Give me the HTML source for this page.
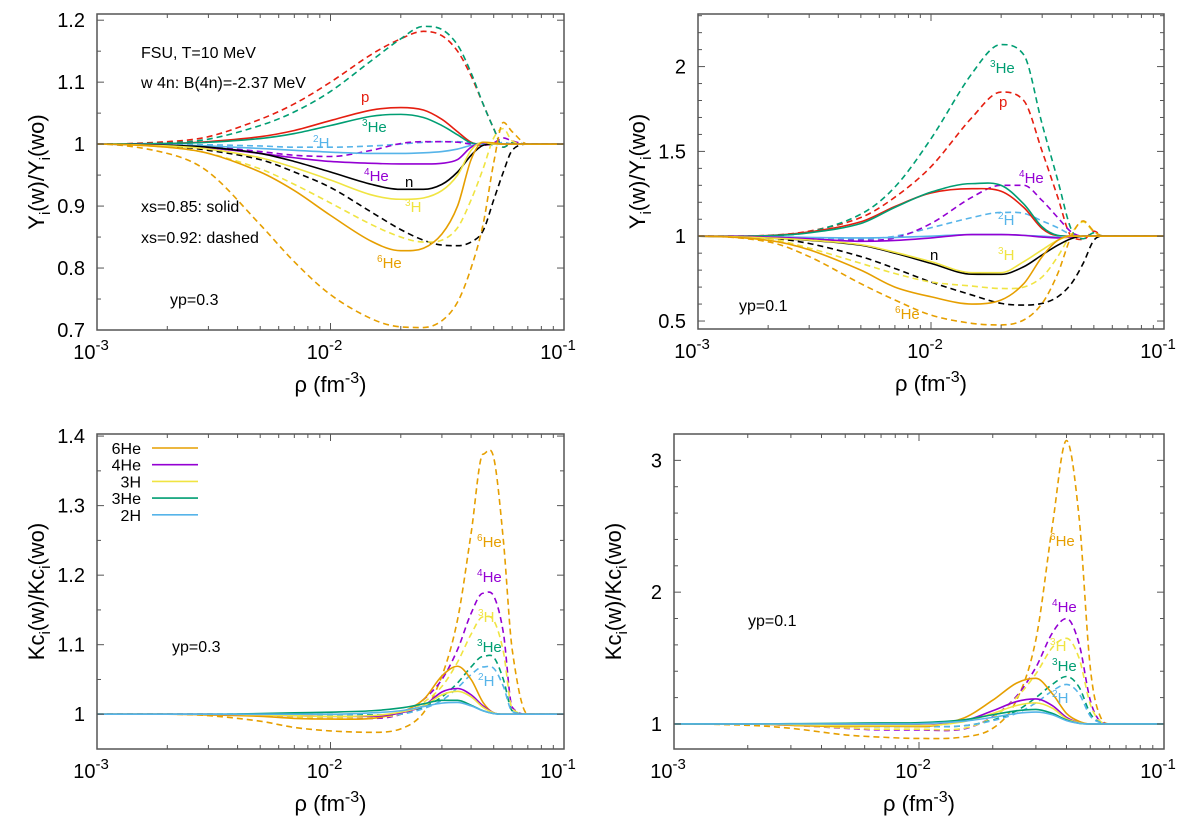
<!DOCTYPE html>
<html><head><meta charset="utf-8"><style>
html,body{margin:0;padding:0;background:#fff;}
svg{display:block;font-family:"Liberation Sans",Arial,sans-serif;}
</style></head><body>
<svg id="fig" width="1200" height="827" viewBox="0 0 1200 827" xmlns="http://www.w3.org/2000/svg"></svg>
<script>
// shared density grid (fm^-3)
const rho = [0.001,0.002,0.003,0.005,0.007,0.01,0.015,0.02,0.025,0.03,0.035,0.04,0.045,0.05,0.055,0.06,0.07,0.1];

// Top-left: Yi(w)/Yi(wo), yp=0.3
const tlSolidP   = [1,1.001,1.004,1.012,1.022,1.038,1.055,1.059,1.055,1.04,1.02,1.003,0.999,1,1,1,1,1];
const tlSolid3He = [1,1.001,1.003,1.009,1.017,1.03,1.045,1.048,1.043,1.03,1.015,1.002,1,1,1,1,1,1];
const tlSolid2H  = [1,0.999,0.997,0.993,0.99,0.987,0.985,0.985,0.986,0.988,0.992,0.998,1,1,1,1,1,1];
const tlSolid4He = [1,0.998,0.994,0.985,0.978,0.972,0.969,0.968,0.968,0.969,0.975,0.995,1.002,1,1,1,1,1];
const tlSolidN   = [1,0.998,0.995,0.985,0.972,0.955,0.935,0.927,0.927,0.935,0.955,0.982,0.998,1,1,1,1,1];
const tlSolid3H  = [1,0.997,0.992,0.978,0.962,0.942,0.918,0.911,0.913,0.925,0.95,0.99,1.003,1,1,1,1,1];
const tlSolid6He = [1,0.995,0.985,0.955,0.925,0.885,0.843,0.828,0.832,0.855,0.9,0.975,1.003,1.002,1,1,1,1];
const tlDashP    = [1,1.004,1.012,1.04,1.065,1.1,1.145,1.17,1.182,1.175,1.15,1.11,1.065,1.025,0.995,1.002,1,1];
const tlDash3He  = [1,1.002,1.008,1.03,1.052,1.085,1.135,1.17,1.19,1.185,1.16,1.115,1.065,1.025,0.995,1.002,1,1];
const tlDash2H   = [1,1,0.999,0.997,0.995,0.995,0.997,1,1.003,1.004,1.004,1.002,1,0.998,1.003,1,1,1];
const tlDash4He  = [1,0.999,0.996,0.988,0.982,0.98,0.99,1.001,1.004,1.004,1.003,1,0.998,1.002,1.01,1.005,1,1];
const tlDashN    = [1,0.997,0.99,0.975,0.955,0.93,0.89,0.862,0.845,0.837,0.836,0.842,0.86,0.91,0.955,0.99,1,1];
const tlDash3H   = [1,0.995,0.985,0.96,0.935,0.905,0.87,0.85,0.842,0.845,0.865,0.91,0.96,1.01,1.025,1.005,1,1];
const tlDash6He  = [1,0.985,0.955,0.87,0.81,0.757,0.718,0.705,0.704,0.715,0.745,0.8,0.87,0.97,1.035,1.02,1,1];

// Top-right: Yi(w)/Yi(wo), yp=0.1
const trSolidP   = [1,1.004,1.025,1.085,1.175,1.255,1.28,1.265,1.17,1.045,1.003,1,1,1,1,1,1,1];
const trSolid3He = [1,1.003,1.02,1.075,1.17,1.26,1.31,1.3,1.19,1.055,1.005,1,1,1,1,1,1,1];
const trSolid2H  = [1,0.997,0.993,0.99,0.993,1,1.01,1.01,1.005,1,0.995,1,1,1,1,1,1,1];
const trSolid4He = [1,0.995,0.985,0.97,0.975,0.99,1.01,1.01,1.005,0.995,0.99,0.995,1,1,1,1,1,1];
const trSolidN   = [1,0.99,0.976,0.947,0.9,0.84,0.776,0.775,0.82,0.89,0.947,0.986,1,1,1,1,1,1];
const trSolid3H  = [1,0.99,0.977,0.95,0.905,0.85,0.785,0.785,0.85,0.92,0.976,1,1,1,1,1,1,1];
const trSolid6He = [1,0.976,0.92,0.8,0.7,0.643,0.6,0.624,0.72,0.88,0.976,1.002,1,1,1,1,1,1];
const trDashP    = [1,1.005,1.03,1.11,1.23,1.41,1.7,1.85,1.8,1.5,1.23,1,0.98,1.03,1,1,1,1];
const trDash3He  = [1,1.003,1.025,1.13,1.29,1.575,1.96,2.13,2.07,1.66,1.33,1.04,0.985,1.02,1,1,1,1];
const trDash2H   = [1,0.998,0.99,0.985,1,1.05,1.11,1.14,1.135,1.09,1.05,1.01,1,1,1,1,1,1];
const trDash4He  = [1,0.995,0.98,0.976,0.99,1.075,1.23,1.3,1.3,1.21,1.11,1.025,1,1,1,1,1,1];
const trDashN    = [1,0.99,0.957,0.88,0.81,0.73,0.653,0.604,0.594,0.604,0.643,0.72,0.84,0.976,1,1,1,1];
const trDash3H   = [1,0.985,0.93,0.84,0.78,0.73,0.706,0.692,0.7,0.76,0.88,1.015,1.085,1.025,1,1,1,1];
const trDash6He  = [1,0.967,0.88,0.72,0.624,0.535,0.486,0.477,0.506,0.604,0.78,1,1.09,1.03,1,1,1,1];

// Bottom-left: Kci(w)/Kci(wo), yp=0.3
const blSolid6He = [1,1,0.999,0.997,0.994,0.993,0.994,1.003,1.021,1.055,1.069,1.05,1.017,1.002,1,1,1,1];
const blSolid4He = [1,1,1,0.999,0.998,0.997,0.997,1.002,1.012,1.032,1.037,1.028,1.012,1.002,1,1,1,1];
const blSolid3H  = [1,1,1,0.999,0.998,0.997,0.998,1.003,1.012,1.028,1.033,1.025,1.01,1.002,1,1,1,1];
const blSolid3He = [1,1,1,1.001,1.002,1.003,1.005,1.009,1.015,1.02,1.02,1.013,1.005,1.001,1,1,1,1];
const blSolid2H  = [1,1,1,1,1,1,1.002,1.005,1.011,1.016,1.017,1.012,1.005,1.001,1,1,1,1];
const blDash6He  = [1,1,0.998,0.99,0.981,0.976,0.974,0.979,1.002,1.055,1.136,1.26,1.374,1.369,1.25,1.093,1,1];
const blDash4He  = [1,1,1,0.998,0.996,0.994,0.994,1,1.021,1.05,1.093,1.145,1.174,1.17,1.117,1.01,1,1];
const blDash3H   = [1,1,1,0.998,0.996,0.995,0.996,1,1.017,1.04,1.075,1.115,1.14,1.135,1.09,1.008,1,1];
const blDash3He  = [1,1,1,1,1,1,0.999,1,1.01,1.025,1.045,1.068,1.083,1.082,1.05,1.005,1,1];
const blDash2H   = [1,1,1,1,1,0.999,0.998,1,1.008,1.02,1.038,1.057,1.068,1.066,1.04,1.004,1,1];

// Bottom-right: Kci(w)/Kci(wo), yp=0.1
const brSolid6He = [1,1,0.99,0.98,0.982,0.98,1.04,1.18,1.31,1.346,1.23,1.08,1.02,1,1,1,1,1];
const brSolid4He = [1,1,0.995,0.99,0.99,0.99,1.02,1.1,1.17,1.19,1.14,1.05,1.01,1,1,1,1,1];
const brSolid3H  = [1,1,0.995,0.988,0.988,0.988,1.015,1.08,1.14,1.16,1.12,1.04,1.01,1,1,1,1,1];
const brSolid3He = [1,1,1.002,1.005,1.008,1.01,1.03,1.07,1.1,1.11,1.08,1.03,1.005,1,1,1,1,1];
const brSolid2H  = [1,1,1,1,1,1.002,1.02,1.05,1.08,1.09,1.07,1.025,1.005,1,1,1,1,1];
const brDash6He  = [1,0.99,0.967,0.917,0.9,0.89,0.9,0.967,1.18,1.64,2.5,3.15,2.57,1.43,1.055,1,1,1];
const brDash4He  = [1,1,0.99,0.967,0.955,0.955,0.96,1.055,1.21,1.43,1.69,1.8,1.61,1.18,1.02,1,1,1];
const brDash3H   = [1,1,0.99,0.97,0.96,0.96,0.965,1.05,1.2,1.38,1.58,1.65,1.5,1.15,1.02,1,1,1];
const brDash3He  = [1,1,0.995,0.985,0.98,0.98,0.985,1.03,1.1,1.2,1.3,1.36,1.28,1.08,1.01,1,1,1];
const brDash2H   = [1,1,0.995,0.985,0.98,0.98,0.985,1.025,1.08,1.16,1.25,1.3,1.23,1.06,1.01,1,1,1];

const C = {p:'#e51e10', he3:'#009e73', h2:'#56b4e9', he4:'#9400d3', n:'#000000', h3:'#f0e442', he6:'#e69f00'};
const NS = 'http://www.w3.org/2000/svg';
const svg = document.getElementById('fig');

function el(tag, attrs, parent){
  const e = document.createElementNS(NS, tag);
  for (const k in attrs) e.setAttribute(k, attrs[k]);
  (parent||svg).appendChild(e);
  return e;
}

// cubic Hermite with centered tangents; flat at extrema; limited near flat ends
function smoothPath(pts){
  const n = pts.length;
  const dx = [], sl = [];
  for (let i=0;i<n-1;i++){ dx[i]=pts[i+1][0]-pts[i][0]; sl[i]=(pts[i+1][1]-pts[i][1])/dx[i]; }
  const m = [];
  m[0] = 0; m[n-1] = 0;
  for (let i=1;i<n-1;i++){
    if (sl[i-1]*sl[i] <= 0) m[i] = 0;
    else m[i] = (pts[i+1][1]-pts[i-1][1])/(pts[i+1][0]-pts[i-1][0]);
  }
  for (let i=0;i<n-1;i++){
    const dy = Math.abs(pts[i+1][1]-pts[i][1]);
    if (m[i+1] === 0 && Math.abs(m[i]) > 3*Math.abs(sl[i])) m[i] = 3*sl[i];
    if (m[i] === 0 && dy > 4 && Math.abs(m[i+1]) > 3*Math.abs(sl[i])) m[i+1] = 3*sl[i];
  }
  let d = 'M'+pts[0][0].toFixed(2)+','+pts[0][1].toFixed(2);
  for (let i=0;i<n-1;i++){
    const h = dx[i]/3;
    d += ' C'+(pts[i][0]+h).toFixed(2)+','+(pts[i][1]+m[i]*h).toFixed(2)+' '+(pts[i+1][0]-h).toFixed(2)+','+(pts[i+1][1]-m[i+1]*h).toFixed(2)+' '+pts[i+1][0].toFixed(2)+','+pts[i+1][1].toFixed(2);
  }
  return d;
}

function drawPanel(cfg){
  const g = el('g', {});
  
  
  const X = v => cfg.x0 + (Math.log10(v)+3)/2*(cfg.x1-cfg.x0);
  const Y = v => cfg.y1 - (v-cfg.ymin)/(cfg.ymax-cfg.ymin)*(cfg.y1-cfg.y0);
  const clipId = 'clip-'+cfg.name;
  const cp = el('clipPath', {id:clipId}, g);
  el('rect', {x:cfg.x0, y:cfg.y0, width:cfg.x1-cfg.x0, height:cfg.y1-cfg.y0}, cp);
  const sg = el('g', {'clip-path':'url(#'+clipId+')'}, g);
  cfg.series.forEach(s => {
    const pts = rho.map((r,i)=>[X(r), Y(s.vals[i])]);
    const path = el('path', {d:smoothPath(pts), fill:'none', stroke:s.color, 'stroke-width':1.6});
    if (s.dash) path.setAttribute('stroke-dasharray','6,4');
    
    
    sg.appendChild(path);
  });
  const fr = el('rect', {x:cfg.x0, y:cfg.y0, width:cfg.x1-cfg.x0, height:cfg.y1-cfg.y0, fill:'none', stroke:'#555', 'stroke-width':1.5}, g);
  
  
  const eps = 1e-9;
  for (let v = cfg.ymin; v <= cfg.ymax+eps; v += cfg.yminor){
    const vv = Math.round(v/cfg.yminor)*cfg.yminor;
    if (vv < cfg.ymin-eps || vv > cfg.ymax+eps) continue;
    const major = Math.abs(vv/cfg.ymajor - Math.round(vv/cfg.ymajor)) < 1e-6;
    const len = major ? 7 : 4;
    const y = Y(vv);
    el('line', {x1:cfg.x0, x2:cfg.x0+len, y1:y, y2:y, stroke:'#555', 'stroke-width':1}, g);
    el('line', {x1:cfg.x1, x2:cfg.x1-len, y1:y, y2:y, stroke:'#555', 'stroke-width':1}, g);
  }
  cfg.ylabels.forEach(v => {
    const t = el('text', {x:cfg.x0-12, y:Y(v)+7, 'font-size':20, 'text-anchor':'end', fill:'#000'}, g);
    t.textContent = String(v);
    
    
  });
  for (let dec=-3; dec<-1+1e-9; dec++){
    for (let m=1;m<=9;m++){
      if (dec===-1 && m>1) break;
      const x = X(m*Math.pow(10,dec));
      const len = m===1?7:4;
      el('line', {x1:x, x2:x, y1:cfg.y1, y2:cfg.y1-len, stroke:'#555', 'stroke-width':1}, g);
      el('line', {x1:x, x2:x, y1:cfg.y0, y2:cfg.y0+len, stroke:'#555', 'stroke-width':1}, g);
    }
  }
  [-3,-2,-1].forEach(e => {
    const t = el('text', {x:X(Math.pow(10,e))-6, y:cfg.y1+29, 'font-size':20, 'text-anchor':'middle', fill:'#000'}, g);
    t.innerHTML = '10<tspan dy="-9" font-size="15">'+e+'</tspan>';
    
    
  });
  const xt = el('text', {x:(cfg.x0+cfg.x1)/2, y:cfg.y1+62, 'font-size':22, 'text-anchor':'middle', fill:'#000'}, g);
  xt.innerHTML = 'ρ (fm<tspan dy="-9" font-size="16">-3</tspan><tspan dy="9">)</tspan>';
  
  
  const yc = (cfg.y0+cfg.y1)/2;
  const yt = el('text', {x:0, y:0, 'font-size':22, 'text-anchor':'middle', fill:'#000', transform:'translate('+(cfg.x0-53)+','+yc+') rotate(-90)'}, g);
  yt.innerHTML = cfg.ytitle;
  
  
  cfg.labels.forEach(l => {
    const t = el('text', {x:l[0], y:l[1], 'font-size':l[4]||15, fill:l[3]}, g);
    t.innerHTML = l[2];
    
    
  });
  return g;
}

const sup = (n,s) => '<tspan dy="-6" font-size="10">'+n+'</tspan><tspan dy="6">'+s+'</tspan>';
const yiTitle = 'Y<tspan dy="6" font-size="15">i</tspan><tspan dy="-6">(w)/Y</tspan><tspan dy="6" font-size="15">i</tspan><tspan dy="-6">(wo)</tspan>';
const kcTitle = 'Kc<tspan dy="6" font-size="15">i</tspan><tspan dy="-6">(w)/Kc</tspan><tspan dy="6" font-size="15">i</tspan><tspan dy="-6">(wo)</tspan>';

drawPanel({name:'panel-top-left', x0:97, x1:564, y0:14, y1:330, ymin:0.7, ymax:1.21, ymajor:0.1, yminor:0.05,
  ylabels:[0.7,0.8,0.9,1,1.1,1.2], ytitle:yiTitle,
  series:[
    {id:'line-p-dashed', vals:tlDashP, color:C.p, dash:true},
    {id:'line-3he-dashed', vals:tlDash3He, color:C.he3, dash:true},
    {id:'line-2h-dashed', vals:tlDash2H, color:C.h2, dash:true},
    {id:'line-4he-dashed', vals:tlDash4He, color:C.he4, dash:true},
    {id:'line-n-dashed', vals:tlDashN, color:C.n, dash:true},
    {id:'line-3h-dashed', vals:tlDash3H, color:C.h3, dash:true},
    {id:'line-6he-dashed', vals:tlDash6He, color:C.he6, dash:true},
    {id:'line-p-solid', vals:tlSolidP, color:C.p},
    {id:'line-3he-solid', vals:tlSolid3He, color:C.he3},
    {id:'line-2h-solid', vals:tlSolid2H, color:C.h2},
    {id:'line-4he-solid', vals:tlSolid4He, color:C.he4},
    {id:'line-n-solid', vals:tlSolidN, color:C.n},
    {id:'line-3h-solid', vals:tlSolid3H, color:C.h3},
    {id:'line-6he-solid', vals:tlSolid6He, color:C.he6}],
  labels:[
    [141,58,'FSU, T=10 MeV','#000',16],[141,88,'w 4n: B(4n)=-2.37 MeV','#000',16],
    [141,212,'xs=0.85: solid','#000',16],[141,243,'xs=0.92: dashed','#000',16],[170,305,'yp=0.3','#000',16],
    [361,102,'p',C.p],[362,132,sup(3,'He'),C.he3],[313,148,sup(2,'H'),C.h2],[364,181,sup(4,'He'),C.he4],
    [405,187,'n',C.n],[405,212,sup(3,'H'),C.h3],[377,268,sup(6,'He'),C.he6]]
});

drawPanel({name:'panel-top-right', x0:698, x1:1164, y0:14, y1:329, ymin:0.453, ymax:2.31, ymajor:0.5, yminor:0.1,
  ylabels:[0.5,1,1.5,2], ytitle:yiTitle,
  series:[
    {id:'line-p-dashed', vals:trDashP, color:C.p, dash:true},
    {id:'line-3he-dashed', vals:trDash3He, color:C.he3, dash:true},
    {id:'line-2h-dashed', vals:trDash2H, color:C.h2, dash:true},
    {id:'line-4he-dashed', vals:trDash4He, color:C.he4, dash:true},
    {id:'line-n-dashed', vals:trDashN, color:C.n, dash:true},
    {id:'line-3h-dashed', vals:trDash3H, color:C.h3, dash:true},
    {id:'line-6he-dashed', vals:trDash6He, color:C.he6, dash:true},
    {id:'line-p-solid', vals:trSolidP, color:C.p},
    {id:'line-3he-solid', vals:trSolid3He, color:C.he3},
    {id:'line-2h-solid', vals:trSolid2H, color:C.h2},
    {id:'line-4he-solid', vals:trSolid4He, color:C.he4},
    {id:'line-n-solid', vals:trSolidN, color:C.n},
    {id:'line-3h-solid', vals:trSolid3H, color:C.h3},
    {id:'line-6he-solid', vals:trSolid6He, color:C.he6}],
  labels:[
    [990,73,sup(3,'He'),C.he3],[999,107,'p',C.p],[1019,183,sup(4,'He'),C.he4],[998,225,sup(2,'H'),C.h2],
    [930,260,'n',C.n],[998,260,sup(3,'H'),C.h3],[895,319,sup(6,'He'),C.he6],[739,311,'yp=0.1','#000',16]]
});

drawPanel({name:'panel-bottom-left', x0:97, x1:564, y0:434, y1:749, ymin:0.95, ymax:1.403, ymajor:0.1, yminor:0.05,
  ylabels:[1,1.1,1.2,1.3,1.4], ytitle:kcTitle,
  series:[
    {id:'line-6he-dashed', vals:blDash6He, color:C.he6, dash:true},
    {id:'line-4he-dashed', vals:blDash4He, color:C.he4, dash:true},
    {id:'line-3h-dashed', vals:blDash3H, color:C.h3, dash:true},
    {id:'line-3he-dashed', vals:blDash3He, color:C.he3, dash:true},
    {id:'line-2h-dashed', vals:blDash2H, color:C.h2, dash:true},
    {id:'line-6he-solid', vals:blSolid6He, color:C.he6},
    {id:'line-4he-solid', vals:blSolid4He, color:C.he4},
    {id:'line-3h-solid', vals:blSolid3H, color:C.h3},
    {id:'line-3he-solid', vals:blSolid3He, color:C.he3},
    {id:'line-2h-solid', vals:blSolid2H, color:C.h2}],
  labels:[
    [477,547,sup(6,'He'),C.he6],[477,582,sup(4,'He'),C.he4],[478,622,sup(3,'H'),C.h3],
    [477,652,sup(3,'He'),C.he3],[478,686,sup(2,'H'),C.h2],[172,652,'yp=0.3','#000',16]]
});

drawPanel({name:'panel-bottom-right', x0:674, x1:1164, y0:434, y1:749, ymin:0.81, ymax:3.2, ymajor:1, yminor:0.2,
  ylabels:[1,2,3], ytitle:kcTitle,
  series:[
    {id:'line-6he-dashed', vals:brDash6He, color:C.he6, dash:true},
    {id:'line-4he-dashed', vals:brDash4He, color:C.he4, dash:true},
    {id:'line-3h-dashed', vals:brDash3H, color:C.h3, dash:true},
    {id:'line-3he-dashed', vals:brDash3He, color:C.he3, dash:true},
    {id:'line-2h-dashed', vals:brDash2H, color:C.h2, dash:true},
    {id:'line-6he-solid', vals:brSolid6He, color:C.he6},
    {id:'line-4he-solid', vals:brSolid4He, color:C.he4},
    {id:'line-3h-solid', vals:brSolid3H, color:C.h3},
    {id:'line-3he-solid', vals:brSolid3He, color:C.he3},
    {id:'line-2h-solid', vals:brSolid2H, color:C.h2}],
  labels:[
    [1050,546,sup(6,'He'),C.he6],[1052,612,sup(4,'He'),C.he4],[1050,651,sup(3,'H'),C.h3],
    [1052,671,sup(3,'He'),C.he3],[1052,703,sup(2,'H'),C.h2],[748,626,'yp=0.1','#000',16]]
});

const legNames = ['6He','4He','3H','3He','2H'];
const legColors = [C.he6, C.he4, C.h3, C.he3, C.h2];
const lg = el('g', {});


legNames.forEach((n,i) => {
  const y = 448 + i*16.7;
  const t = el('text', {x:141, y:y+6, 'font-size':16, 'text-anchor':'end', fill:'#000'}, lg);
  t.textContent = n;
  
  
  el('line', {x1:152, x2:198, y1:y, y2:y, stroke:legColors[i], 'stroke-width':1.6}, lg);
});
</script>
</body></html>
